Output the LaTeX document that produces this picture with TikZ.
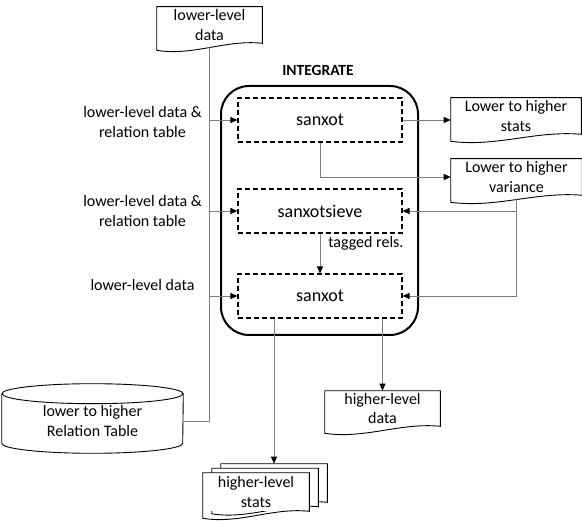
\documentclass[tikz,border=0pt]{standalone}
\usepackage{fontspec}
\setmainfont{Carlito}
\usetikzlibrary{arrows.meta, calc}
\definecolor{connGray}{HTML}{7F7F7F}

% outline of a document shape (wavy bottom) round a node
\newcommand{\docshape}[2][]{%
  \draw [docline, #1] (#2.south east) -- (#2.north east) -- (#2.north west)
    -- ($(#2.south west)+(0,7)$)
    .. controls ($(#2.south west)!0.35!(#2.south east)+(0,13)$)
            and ($(#2.south west)!0.65!(#2.south east)+(0,-4)$) .. (#2.south east)
    -- cycle;
}

\begin{document}
\begin{tikzpicture}[x = 1pt, y = -1pt, semithick,
    > = {Triangle[length=7pt, width=6pt, color=black]},
    every node/.style = {font=\fontsize{16}{19.5}\selectfont, align=center},
    conn/.style = {draw=connGray, line width=0.9pt},
    docline/.style = {draw=black, line width=0.9pt},
    docbox/.style = {minimum width=#1, minimum height=36pt, inner sep=0pt},
    procbox/.style = {draw, dashed, line width=1.1pt, dash pattern=on 5pt off 3pt,
                      minimum width=164pt, minimum height=44pt, inner sep=0pt,
                      font=\fontsize{18}{21}\selectfont}]
    \useasboundingbox (0,0) rectangle (582,524);

    % integrate block %
    \node [draw, line width=2pt, rounded corners=28pt,
           minimum width=197pt, minimum height=249pt] at (319.5, 210.5) (integ) {};
    \node [font=\bfseries\fontsize{15.5}{18}\selectfont] at (318, 70) (integ-lbl) {INTEGRATE};

    \node [procbox] at (320, 120) (s1) {sanxot};
    \node [procbox] at (320, 211) (s2) {sanxotsieve};
    \node [procbox] at (320, 296) (s3) {sanxot};
    \node [anchor=west, inner sep=0pt] at (328, 243) (tagged) {tagged rels.};

    % documents %
    \node [docbox=105pt] at (209.5, 25) (ldata) {lower-level\\data};
    \docshape{ldata}

    \node [docbox=130pt] at (516, 116) (stats) {Lower to higher\\stats};
    \docshape{stats}

    \node [docbox=131pt] at (516.5, 177) (var) {Lower to higher\\variance};
    \docshape{var}

    \node [docbox=115pt, minimum height=35pt] at (382.5, 408.5) (hdata) {higher-level\\data};
    \docshape{hdata}

    % stack of stats pages
    \node [docbox=106pt, minimum height=38pt] at (274, 483) (hstats-b) {};
    \docshape[fill=white]{hstats-b}
    \node [docbox=106pt, minimum height=38pt] at (265, 487.5) (hstats-m) {};
    \docshape[fill=white]{hstats-m}
    \node [docbox=106pt, minimum height=38pt, fill=white] at (256, 492) (hstats) {higher-level\\stats};
    \docshape{hstats}

    % relation table (cylinder)
    \node [minimum width=181pt, minimum height=54pt, inner sep=0pt] at (92.5, 421) (reltab)
          {lower to higher\\Relation Table};
    \draw [docline] (reltab.north west) -- ($(reltab.south west)+(0,-5)$)
          arc [start angle=180, end angle=0, x radius=90.5, y radius=10]
          -- (reltab.north east);
    \draw [docline] (reltab.north) ellipse [x radius=90.5, y radius=10];

    % input labels %
    \node at (142.5, 122) (in1) {lower-level data \&\\relation table};
    \node at (142.5, 211) (in2) {lower-level data \&\\relation table};
    \node at (142.5, 285) (in3) {lower-level data};

    % connectors %
    \draw [conn] ($(ldata.south)+(0,4)$) |- (reltab.east);
    \draw [conn, ->] (ldata.south |- s1.west) -- (s1.west);
    \draw [conn, ->] (ldata.south |- s2.west) -- (s2.west);
    \draw [conn, ->] (ldata.south |- s3.west) -- (s3.west);

    \draw [conn, ->] (s1.east) -- (s1.east -| stats.west);
    \draw [conn, ->] (s1.south) |- (var.west);
    \draw [conn, ->] ($(var.south)+(0,4)$) |- (s3.east);
    \draw [conn, ->] (var.south |- s2.east) -- (s2.east);
    \draw [conn, ->] (s2.south) -- (s3.north);

    \draw [conn, ->] (hstats-b.north |- s3.south) -- (hstats-b.north);
    \draw [conn, ->] (hdata.north |- s3.south) -- (hdata.north);

\end{tikzpicture}
\end{document}
